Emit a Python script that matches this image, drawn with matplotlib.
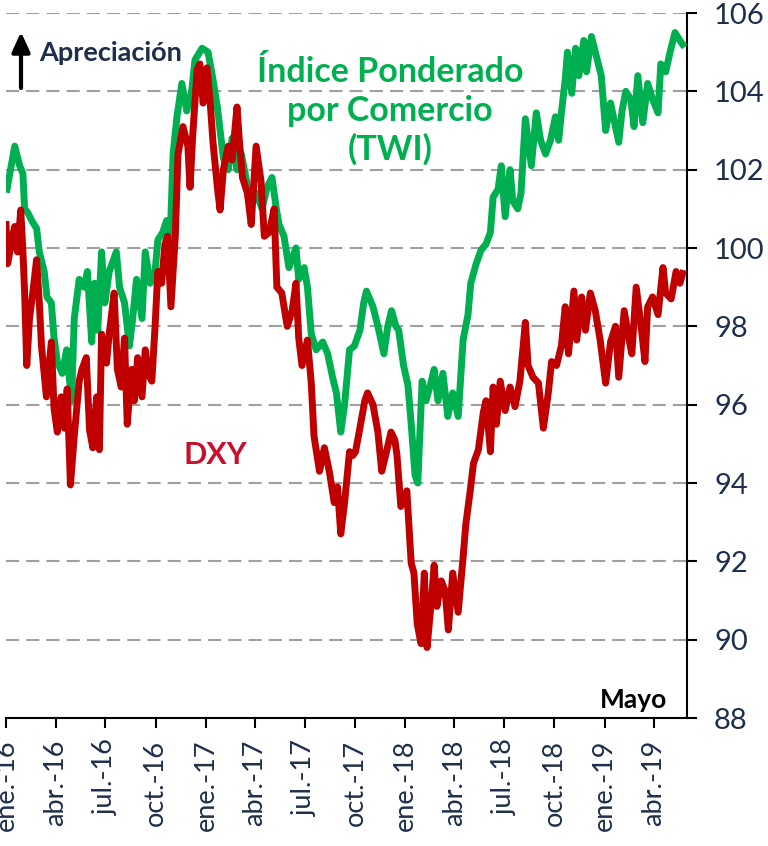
import matplotlib
matplotlib.use("Agg")
import matplotlib.pyplot as plt
import matplotlib.patches as mpatches
import pandas as pd

plt.rcParams['font.family'] = ['Lato', 'DejaVu Sans']

twi_dates = [
    "2016-01-03","2016-01-08","2016-01-17","2016-01-26","2016-02-01","2016-02-04","2016-02-10","2016-02-17",
    "2016-02-26","2016-03-02","2016-03-11","2016-03-16","2016-03-24","2016-03-29","2016-04-04","2016-04-13",
    "2016-04-21","2016-04-30","2016-05-05","2016-05-14","2016-05-23","2016-05-29","2016-06-06","2016-06-11",
    "2016-06-17","2016-06-24","2016-06-30","2016-07-08","2016-07-21","2016-07-27","2016-08-05","2016-08-14",
    "2016-08-20","2016-08-27","2016-09-06","2016-09-12","2016-09-21","2016-09-30","2016-10-05","2016-10-14",
    "2016-10-21","2016-10-27","2016-11-02","2016-11-09","2016-11-18","2016-11-27","2016-12-06","2016-12-12",
    "2016-12-25","2017-01-05","2017-01-14","2017-01-22","2017-01-27","2017-02-02","2017-02-11","2017-02-18",
    "2017-02-27","2017-03-07","2017-03-18","2017-03-27","2017-04-03","2017-04-14","2017-04-23","2017-05-02",
    "2017-05-10","2017-05-15","2017-05-24","2017-06-02","2017-06-15","2017-06-20","2017-06-30","2017-07-06",
    "2017-07-13","2017-07-22","2017-08-03","2017-08-12","2017-08-21","2017-08-28","2017-09-05","2017-09-12",
    "2017-09-21","2017-09-30","2017-10-10","2017-10-17","2017-10-22","2017-11-03","2017-11-12","2017-11-23",
    "2017-11-30","2017-12-07","2017-12-15","2017-12-20","2017-12-29","2018-01-06","2018-01-12","2018-01-19",
    "2018-01-24","2018-02-01","2018-02-08","2018-02-16","2018-02-23","2018-03-02","2018-03-11","2018-03-20",
    "2018-03-29","2018-04-08","2018-04-17","2018-04-26","2018-05-01","2018-05-11","2018-05-20","2018-05-29",
    "2018-06-06","2018-06-11","2018-06-20","2018-06-26","2018-07-03","2018-07-12","2018-07-17","2018-07-26",
    "2018-08-01","2018-08-09","2018-08-14","2018-08-20","2018-08-29","2018-09-06","2018-09-15","2018-09-24",
    "2018-10-03","2018-10-09","2018-10-14","2018-10-21","2018-10-25","2018-11-02","2018-11-09","2018-11-15",
    "2018-11-24","2018-11-29","2018-12-08","2018-12-17","2018-12-26","2019-01-03","2019-01-12","2019-01-21",
    "2019-01-27","2019-02-02","2019-02-09","2019-02-18","2019-02-24","2019-03-03","2019-03-12","2019-03-21",
    "2019-03-30","2019-04-09","2019-04-14","2019-04-23","2019-05-01","2019-05-10","2019-05-19","2019-05-24",
]
twi_values = [
    101.5, 101.9, 102.6, 102.1, 101.9, 101.0, 100.9, 100.7,
    100.5, 99.9, 99.4, 98.75, 98.6, 97.7, 97.1, 96.8,
    97.4, 96.1, 98.2, 99.2, 99.0, 99.4, 97.6, 99.1,
    97.9, 99.9, 98.6, 99.4, 99.9, 99.0, 98.6, 97.5,
    98.2, 99.2, 98.2, 99.9, 99.1, 99.4, 100.2, 100.4,
    100.7, 100.0, 102.4, 103.35, 104.2, 103.5, 104.0, 104.8,
    105.1, 105.0, 104.3, 103.6, 103.0, 102.3, 102.0, 102.8,
    102.0, 102.4, 101.6, 101.4, 101.4, 101.0, 101.55, 101.8,
    101.0, 100.6, 100.3, 99.5, 100.0, 99.2, 99.5, 99.0,
    97.8, 97.4, 97.6, 97.3, 96.7, 96.3, 95.3, 96.0,
    97.4, 97.5, 97.9, 98.6, 98.9, 98.5, 98.0, 97.3,
    98.0, 98.4, 98.0, 97.9, 97.0, 96.5, 95.5, 94.2,
    94.0, 96.6, 96.1, 96.5, 96.9, 96.1, 96.8, 95.7,
    96.3, 95.7, 97.65, 98.3, 99.1, 99.6, 99.95, 100.1,
    100.4, 101.3, 101.5, 102.1, 100.8, 102.0, 101.2, 101.0,
    101.4, 103.3, 102.75, 102.1, 103.45, 102.75, 102.4, 102.75,
    103.35, 102.75, 103.45, 104.3, 105.0, 103.95, 105.1, 104.4,
    105.3, 104.5, 105.4, 104.9, 104.4, 103.0, 103.7, 103.1,
    102.7, 103.5, 104.0, 103.8, 103.1, 104.4, 103.2, 104.2,
    103.8, 103.45, 104.7, 104.5, 105.0, 105.5, 105.3, 105.2,
]

dxy_dates = [
    "2016-01-01","2016-01-04","2016-01-08","2016-01-13","2016-01-17","2016-01-22","2016-01-28","2016-02-01",
    "2016-02-04","2016-02-08","2016-02-13","2016-02-19","2016-02-26","2016-03-02","2016-03-06","2016-03-15",
    "2016-03-24","2016-03-29","2016-04-04","2016-04-11","2016-04-17","2016-04-22","2016-04-28","2016-05-05",
    "2016-05-14","2016-05-19","2016-05-27","2016-06-02","2016-06-08","2016-06-15","2016-06-20","2016-06-24",
    "2016-07-03","2016-07-08","2016-07-17","2016-07-23","2016-07-30","2016-08-05","2016-08-10","2016-08-18",
    "2016-08-23","2016-08-29","2016-09-06","2016-09-12","2016-09-17","2016-09-24","2016-09-30","2016-10-05",
    "2016-10-12","2016-10-18","2016-10-23","2016-10-29","2016-11-06","2016-11-11","2016-11-20","2016-11-29",
    "2016-12-03","2016-12-08","2016-12-16","2016-12-21","2016-12-27","2017-01-03","2017-01-09","2017-01-14",
    "2017-01-22","2017-01-27","2017-02-02","2017-02-11","2017-02-18","2017-02-27","2017-03-03","2017-03-09",
    "2017-03-18","2017-03-25","2017-04-03","2017-04-12","2017-04-18","2017-04-27","2017-05-06","2017-05-11",
    "2017-05-20","2017-05-30","2017-06-08","2017-06-15","2017-06-20","2017-06-26","2017-07-06","2017-07-13",
    "2017-07-18","2017-07-28","2017-08-06","2017-08-15","2017-08-24","2017-08-30","2017-09-05","2017-09-12",
    "2017-09-21","2017-09-27","2017-10-02","2017-10-10","2017-10-19","2017-10-24","2017-11-03","2017-11-12",
    "2017-11-19","2017-11-26","2017-12-06","2017-12-13","2017-12-17","2017-12-24","2018-01-04","2018-01-12",
    "2018-01-17","2018-01-23","2018-01-30","2018-02-05","2018-02-10","2018-02-18","2018-02-23","2018-02-28",
    "2018-03-08","2018-03-15","2018-03-21","2018-03-29","2018-04-08","2018-04-17","2018-04-22","2018-04-30",
    "2018-05-06","2018-05-15","2018-05-24","2018-05-29","2018-06-06","2018-06-11","2018-06-17","2018-06-24",
    "2018-07-03","2018-07-12","2018-07-21","2018-07-30","2018-08-09","2018-08-14","2018-08-23","2018-09-02",
    "2018-09-11","2018-09-20","2018-09-26","2018-10-05","2018-10-14","2018-10-21","2018-10-27","2018-11-06",
    "2018-11-11","2018-11-20","2018-11-27","2018-12-06","2018-12-15","2018-12-24","2019-01-03","2019-01-12",
    "2019-01-21","2019-01-27","2019-02-06","2019-02-15","2019-02-20","2019-02-28","2019-03-09","2019-03-16",
    "2019-03-21","2019-03-30","2019-04-09","2019-04-18","2019-04-23","2019-05-03","2019-05-12","2019-05-19",
    "2019-05-24",
]
dxy_values = [
    100.6, 99.6, 99.9, 100.3, 100.55, 99.9, 100.97, 99.9,
    98.9, 97.0, 98.2, 98.85, 99.7, 98.6, 97.5, 96.2,
    97.6, 95.9, 95.3, 96.2, 95.4, 96.4, 93.95, 95.2,
    96.6, 96.9, 97.2, 95.35, 94.9, 96.2, 94.85, 97.8,
    97.06, 97.8, 98.85, 96.9, 96.45, 97.7, 95.5, 96.9,
    96.1, 97.2, 96.2, 97.4, 96.8, 96.6, 98.0, 99.4,
    99.1, 100.1, 100.3, 98.5, 100.3, 102.4, 103.1, 102.6,
    101.55, 102.9, 104.55, 104.7, 103.7, 104.6, 103.7, 102.7,
    101.55, 100.97, 102.0, 102.6, 102.25, 103.6, 102.8, 101.8,
    101.4, 100.6, 102.6, 101.7, 100.3, 100.4, 101.0, 99.0,
    98.85, 98.0, 98.4, 99.1, 97.7, 97.0, 97.65, 96.55,
    95.2, 94.3, 94.9, 94.3, 93.5, 93.9, 92.7, 93.5,
    94.8, 94.7, 94.8, 95.4, 96.1, 96.3, 96.0, 95.3,
    94.3, 94.7, 95.3, 95.1, 94.7, 93.4, 93.8, 91.95,
    91.7, 90.4, 89.9, 91.7, 89.8, 91.0, 91.9, 90.85,
    91.5, 91.25, 90.25, 91.7, 90.7, 92.1, 92.95, 93.8,
    94.5, 94.85, 95.8, 96.1, 94.8, 96.45, 95.5, 96.6,
    95.85, 96.45, 95.95, 96.6, 98.1, 97.0, 96.7, 96.55,
    95.4, 96.3, 97.1, 97.0, 97.5, 98.5, 97.3, 98.9,
    97.65, 98.75, 97.9, 98.85, 98.4, 97.65, 96.55, 97.6,
    98.0, 96.7, 98.4, 97.65, 97.3, 99.0, 98.0, 97.1,
    98.5, 98.75, 98.3, 99.5, 98.85, 98.7, 99.4, 99.1,
    99.35,
]

tick_dates = ["2016-01-01","2016-04-01","2016-07-01","2016-10-01","2017-01-01","2017-04-01","2017-07-01",
              "2017-10-01","2018-01-01","2018-04-01","2018-07-01","2018-10-01","2019-01-01","2019-04-01"]
tick_labels = ["ene.-16","abr.-16","jul.-16","oct.-16","ene.-17","abr.-17","jul.-17",
               "oct.-17","ene.-18","abr.-18","jul.-18","oct.-18","ene.-19","abr.-19"]
y_ticks = [88, 90, 92, 94, 96, 98, 100, 102, 104, 106]

GREEN = "#00B050"
RED = "#C00000"
NAVY = "#1F2E4A"

fig = plt.figure(figsize=(7.68, 8.46), dpi=100)
ax = fig.add_axes([6/768, 128/846, 681/768, 705/846])

td = pd.to_datetime(twi_dates)
dd = pd.to_datetime(dxy_dates)
ax.plot(td, twi_values, color=GREEN, lw=5, solid_joinstyle='round', zorder=3)
ax.plot(dd, dxy_values, color=RED, lw=5, solid_joinstyle='round', zorder=4)

ax.set_xlim(pd.Timestamp("2016-01-01"), pd.Timestamp("2019-06-01"))
ax.set_ylim(88, 106)

ax.yaxis.tick_right()
ax.set_yticks(y_ticks)
ax.set_yticklabels([str(v) for v in y_ticks])
ax.set_xticks(pd.to_datetime(tick_dates))
ax.set_xticklabels(tick_labels, rotation=90)

for s in ["top", "left"]:
    ax.spines[s].set_visible(False)
for s in ["bottom", "right"]:
    ax.spines[s].set_color("black")
    ax.spines[s].set_linewidth(1.5)

ax.tick_params(axis='both', direction='out', length=7.5, width=1.5, color='black',
               labelcolor=NAVY)
ax.tick_params(axis='y', pad=12, labelsize=21)
ax.tick_params(axis='x', pad=8, labelsize=19.5)

for v in y_ticks[1:]:
    ax.axhline(v, color="#A0A0A0", lw=1.5, linestyle=(0, (6.3, 3.4)), zorder=1)

fig.text(39/768, 1-53/846, "Apreciación", fontsize=19.5, fontweight='bold', color=NAVY,
         ha='left', va='center')
fig.add_artist(mpatches.FancyArrowPatch(
    (21/768, 1-88/846), (21/768, 1-32/846), transform=fig.transFigure,
    arrowstyle='-|>,head_length=12,head_width=5.5', color='black', lw=3,
    mutation_scale=1, shrinkA=0, shrinkB=0))

fig.text(390/768, 1-111/846, "Índice Ponderado\npor Comercio\n(TWI)", fontsize=24.5,
         fontweight='bold', color=GREEN, ha='center', va='center', linespacing=1.25)
fig.text(215/768, 1-455/846, "DXY", fontsize=22, fontweight='bold', color="#C8102E",
         ha='center', va='center')
fig.text(634/768, 1-700/846, "Mayo", fontsize=19, fontweight='bold', color='black',
         ha='center', va='center')

fig.savefig("out.png", dpi=100)
